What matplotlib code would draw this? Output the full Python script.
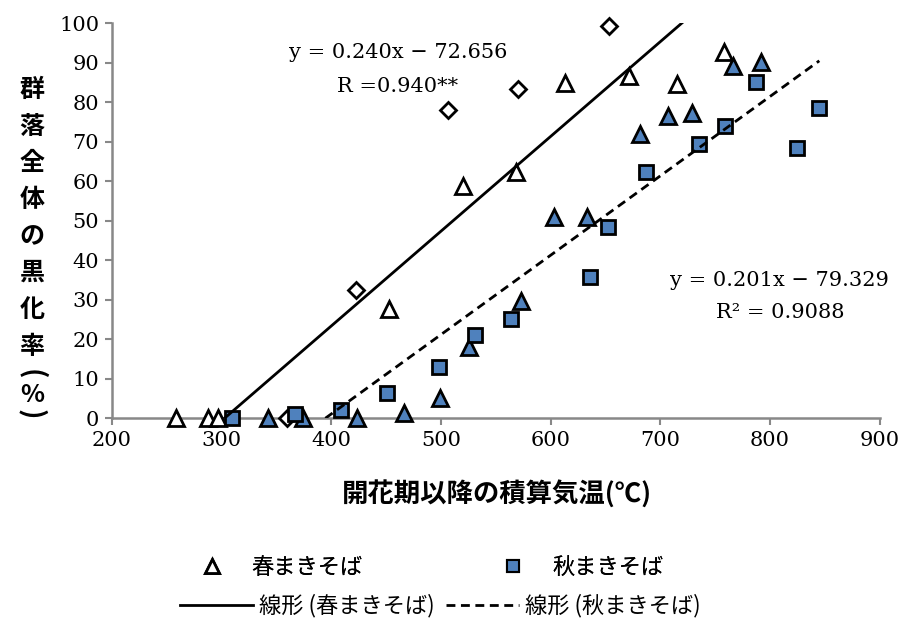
import numpy as np
import matplotlib
matplotlib.use("Agg")
import matplotlib.pyplot as plt
from matplotlib.lines import Line2D


# =========================
# Data
# =========================

# 春まきそば (open triangles)
spring_x = [258.6, 288.0, 297.0, 453.0, 520.5, 568.5, 613.2, 671.8, 715.6, 758.2]
spring_y = [0.0, 0.0, 0.0, 27.6, 58.8, 62.4, 85.0, 86.7, 84.6, 92.7]

# extra spring points (open diamonds, not in legend)
diamond_x = [359.5, 422.7, 506.3, 570.7, 653.6]
diamond_y = [0.0, 32.5, 78.0, 83.3, 99.4]

# 秋まきそば (blue squares)
autumn_x = [309.4, 367.5, 409.0, 451.3, 498.0, 531.0, 563.7, 636.0, 652.7,
            687.0, 735.4, 759.1, 787.3, 824.4, 845.0]
autumn_y = [0.0, 1.0, 2.1, 6.3, 13.0, 21.1, 25.1, 35.7, 48.5,
            62.4, 69.4, 74.1, 85.1, 68.4, 78.6]

# extra autumn points (blue triangles, not in legend)
blue_tri_x = [342.3, 374.7, 423.5, 466.0, 499.2, 525.5, 572.8, 603.2, 633.6,
              681.6, 707.4, 728.7, 766.6, 791.9]
blue_tri_y = [0.0, 0.0, 0.0, 1.4, 5.1, 18.0, 29.8, 51.0, 51.0,
              72.0, 76.6, 77.4, 89.3, 90.3]

# trend lines
spring_fit = (0.240, -72.656)
autumn_fit = (0.201, -79.329)

x_ticks = [200, 300, 400, 500, 600, 700, 800, 900]
y_ticks = [0, 10, 20, 30, 40, 50, 60, 70, 80, 90, 100]

BLUE = "#4F81BD"
GRAY = "#888888"
NUM_FONT = "DejaVu Serif"
JP_FONT = "Noto Sans CJK JP"
DASH = (0, (3.2, 2.0))


# =========================
# Figure
# =========================

fig = plt.figure(figsize=(9.01, 6.21), dpi=100)
ax = fig.add_axes([0.124, 0.3264, 0.8523, 0.636])

ax.plot(diamond_x, diamond_y, linestyle="none", marker="D", ms=8.5,
        mfc="white", mec="black", mew=2, clip_on=False, zorder=3)
ax.plot(spring_x, spring_y, linestyle="none", marker="^", ms=12,
        mfc="white", mec="black", mew=2, clip_on=False, zorder=3)
ax.plot(blue_tri_x, blue_tri_y, linestyle="none", marker="^", ms=11.5,
        mfc=BLUE, mec="black", mew=2, clip_on=False, zorder=3)
ax.plot(autumn_x, autumn_y, linestyle="none", marker="s", ms=10,
        mfc=BLUE, mec="black", mew=2, clip_on=False, zorder=3)

# trend lines over the data x range, clipped to the axes
sx = np.array([min(spring_x), max(spring_x)])
ax.plot(sx, spring_fit[0] * sx + spring_fit[1], color="black", lw=2.0, zorder=4)
axx = np.array([min(autumn_x), max(autumn_x)])
ax.plot(axx, autumn_fit[0] * axx + autumn_fit[1], color="black", lw=2.0,
        linestyle=DASH, zorder=4)

ax.set_xlim(200, 900)
ax.set_ylim(0, 100)
ax.set_xticks(x_ticks)
ax.set_yticks(y_ticks)
ax.set_xticklabels([str(v) for v in x_ticks], fontfamily=NUM_FONT, fontsize=15)
ax.set_yticklabels([str(v) for v in y_ticks], fontfamily=NUM_FONT, fontsize=15)
ax.tick_params(direction="out", length=5, width=1.5, color=GRAY, pad=4)

for side in ["top", "right"]:
    ax.spines[side].set_visible(False)
for side in ["left", "bottom"]:
    ax.spines[side].set_color(GRAY)
    ax.spines[side].set_linewidth(1.8)

# equations
ax.text(461, 92.7, "y = 0.240x − 72.656", ha="center", va="center",
        fontfamily=NUM_FONT, fontsize=15)
ax.text(461, 83.9, "R =0.940**", ha="center", va="center",
        fontfamily=NUM_FONT, fontsize=15)
ax.text(809, 35.0, "y = 0.201x − 79.329", ha="center", va="center",
        fontfamily=NUM_FONT, fontsize=15)
ax.text(809, 26.9, "R² = 0.9088", ha="center", va="center",
        fontfamily=NUM_FONT, fontsize=15)

# axis labels
fig.text(497 / 901, 1 - 495 / 621, "開花期以降の積算気温(℃)", ha="center",
         va="center", fontfamily=JP_FONT, fontweight="bold", fontsize=19)

ylabel_chars = ["群", "落", "全", "体", "の", "黒", "化", "率", "(", "%", ")"]
ylabel_py = [90, 127, 163, 200, 237, 273, 310, 347, 374, 395, 414]
ylabel_rot = [0, 0, 0, 0, 0, 0, 0, 0, -90, 0, -90]
for ch, py, rot in zip(ylabel_chars, ylabel_py, ylabel_rot):
    fig.text(32 / 901, 1 - py / 621, ch, ha="center", va="center",
             rotation=rot, fontfamily=JP_FONT, fontweight="bold",
             fontsize=18 if rot == 0 else 20)

# legend, two rows
h_tri = Line2D([], [], linestyle="none", marker="^", ms=10, mfc="white",
               mec="black", mew=2)
h_sq = Line2D([], [], linestyle="none", marker="s", ms=9, mfc=BLUE,
              mec="black", mew=1.5)
h_solid = Line2D([], [], color="black", lw=2.0)
h_dash = Line2D([], [], color="black", lw=2.0, linestyle=DASH)

leg_font = {"family": JP_FONT, "size": 16}
leg1 = fig.legend([h_tri, h_sq], ["春まきそば", "秋まきそば"], ncol=2,
                  frameon=False, prop=leg_font, loc="center left",
                  bbox_to_anchor=(190 / 901, 1 - 567 / 621),
                  handlelength=2.0, handletextpad=0.75, columnspacing=5.8,
                  borderpad=0, borderaxespad=0)
fig.add_artist(leg1)
fig.legend([h_solid, h_dash], ["線形 (春まきそば)", "線形 (秋まきそば)"], ncol=2,
           frameon=False, prop=leg_font, loc="center left",
           bbox_to_anchor=(180 / 901, 1 - 606 / 621),
           handlelength=3.3, handletextpad=0.25, columnspacing=0.5,
           borderpad=0, borderaxespad=0)

fig.savefig("out.png", dpi=100)
